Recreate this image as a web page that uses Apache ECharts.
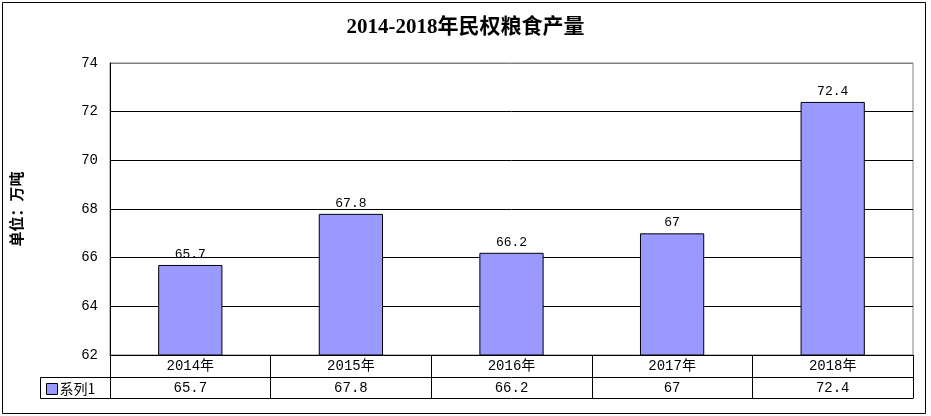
<!DOCTYPE html>
<html>
<head>
<meta charset="utf-8">
<script src="https://cdn.jsdelivr.net/npm/echarts@6/dist/echarts.min.js"></script>
<style>
  html, body { margin: 0; padding: 0; background: #fff; }
  #chart { width: 931px; height: 416px; }
</style>
</head>
<body>
<div id="chart"></div>
<script>
// data
const years = ['2014年', '2015年', '2016年', '2017年', '2018年'];
const output = [65.7, 67.8, 66.2, 67, 72.4];
const seriesName = '系列1';

const numFont = '"Liberation Mono", "Noto Sans CJK SC", monospace';
const cjkFont = '"Liberation Serif", "Noto Sans CJK SC", serif';

// layout of the plot / table
const L = 110, R = 913, T = 63, B = 355, ROW = 22;

const chart = echarts.init(document.getElementById('chart'), null, { renderer: 'canvas' });

const option = {
  backgroundColor: '#fff',
  animation: false,
  title: {
    text: '2014-2018年民权粮食产量',
    left: 'center',
    top: 12,
    textStyle: { fontFamily: cjkFont, fontSize: 21, fontWeight: 'bold', color: '#000' }
  },
  legend: {
    data: [seriesName],
    left: 46,
    top: B + ROW + 5,
    padding: 0,
    itemWidth: 11,
    itemHeight: 11,
    itemGap: 0,
    icon: 'rect',
    itemStyle: { borderColor: '#000', borderWidth: 1 },
    textStyle: { fontFamily: '"Noto Sans CJK SC", sans-serif', fontSize: 14, color: '#000', padding: [0, 0, 0, -3] }
  },
  grid: {
    left: L, right: 931 - R, top: T, bottom: 416 - B,
    outerBoundsMode: 'none',
    containLabel: false,
    show: true, borderColor: '#808080', borderWidth: 1, backgroundColor: 'transparent'
  },
  xAxis: [
    {
      type: 'category',
      data: years,
      position: 'bottom',
      axisLine: { lineStyle: { color: '#000', width: 1 } },
      axisTick: { show: true, length: ROW, lineStyle: { color: '#000' } },
      axisLabel: { margin: 4, color: '#000', fontFamily: numFont, fontSize: 14 }
    },
    {
      type: 'category',
      data: output.map(String),
      position: 'bottom',
      offset: ROW,
      axisLine: { lineStyle: { color: '#000', width: 1 } },
      axisTick: { show: true, length: ROW - 1, lineStyle: { color: '#000' } },
      axisLabel: { margin: 4, color: '#000', fontFamily: numFont, fontSize: 14 }
    },
    {
      type: 'category',
      data: years,
      position: 'bottom',
      offset: ROW * 2 - 1,
      axisLine: { lineStyle: { color: '#000', width: 1 } },
      axisTick: { show: false },
      axisLabel: { show: false }
    }
  ],
  yAxis: {
    type: 'value',
    min: 62,
    max: 74,
    interval: 2,
    name: '单位：万吨',
    nameLocation: 'middle',
    nameGap: 86,
    nameRotate: 90,
    nameTextStyle: { fontFamily: '"Noto Sans CJK SC", sans-serif', fontSize: 15, fontWeight: 'bold', color: '#000' },
    axisLine: { show: true, lineStyle: { color: '#000', width: 1 } },
    axisTick: { show: false },
    axisLabel: { margin: 12, color: '#000', fontFamily: numFont, fontSize: 14 },
    splitLine: {
      show: true,
      lineStyle: { color: ['#000', '#000', '#000', '#000', '#000', '#000', '#808080'], width: 1 }
    }
  },
  graphic: [
    // outer frame
    {
      type: 'rect', silent: true, z: -1,
      shape: { x: 2.5, y: 2.5, width: 923, height: 411 },
      style: { fill: 'none', stroke: '#000', lineWidth: 1 }
    },
    // legend cell of the data table
    {
      type: 'polyline', silent: true,
      shape: { points: [[L, B + ROW + 0.5], [40.5, B + ROW + 0.5], [40.5, B + ROW * 2 - 0.5], [L, B + ROW * 2 - 0.5]] },
      style: { fill: 'none', stroke: '#000', lineWidth: 1 }
    }
  ],
  series: [
    {
      name: seriesName,
      type: 'bar',
      xAxisIndex: 0,
      data: output,
      barWidth: '40%',
      itemStyle: { color: '#9999FF', borderColor: '#000', borderWidth: 1 },
      label: {
        show: true,
        position: 'top',
        distance: 4,
        color: '#000',
        fontFamily: numFont,
        fontSize: 13
      }
    }
  ]
};

chart.setOption(option);
</script>
</body>
</html>
